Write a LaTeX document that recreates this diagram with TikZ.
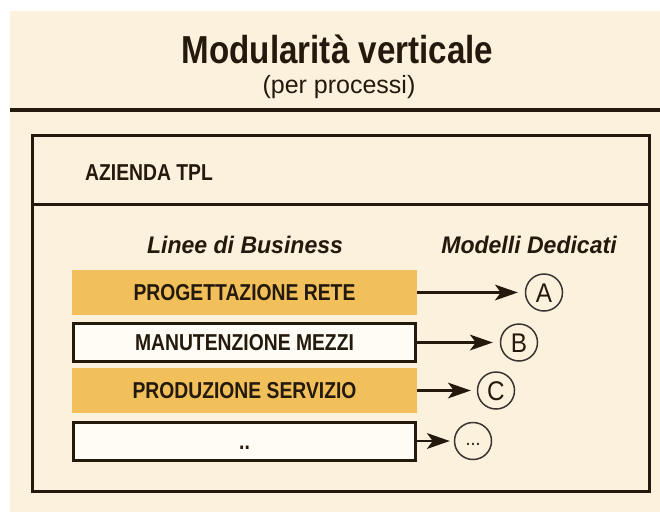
\documentclass[tikz,border=0pt]{standalone}
\usepackage{fontspec}
\setmainfont{Liberation Sans}
\newfontfamily\fTitle[FakeStretch=0.85]{Liberation Sans}
\newfontfamily\fRow[FakeStretch=0.84]{Liberation Sans}
\newfontfamily\fHead[FakeStretch=0.96]{Liberation Sans}
\newfontfamily\fCirc[FakeStretch=0.9]{Liberation Sans}
\usetikzlibrary{calc}
\definecolor{cream}{HTML}{FCF1DC}
\definecolor{orangefill}{HTML}{F2C05A}
\definecolor{boxwhite}{HTML}{FFFCF6}
\definecolor{linec}{HTML}{231A0D}
\definecolor{circc}{HTML}{3A3530}
\tikzset{
  rowfill/.style={minimum width=345pt, minimum height=45pt, inner sep=0pt, fill=orangefill,
    font=\fRow\bfseries\fontsize{23}{24}\selectfont, text height=16.5pt, text depth=0pt, text=linec},
  rowbox/.style={draw=linec, line width=3pt, fill=boxwhite, minimum width=342pt, minimum height=38pt, inner sep=0pt,
    font=\fRow\bfseries\fontsize{23}{24}\selectfont, text height=16.5pt, text depth=0pt, text=linec},
  circ/.style={circle, draw=circc, line width=1.5pt, minimum size=37pt, inner sep=0pt,
    font=\fCirc\fontsize{27}{28}\selectfont, text height=19.3pt, text depth=0pt, text=linec},
  head/.style={anchor=base, inner sep=0pt, font=\fHead\bfseries\itshape\fontsize{24}{25}\selectfont, text=linec},
  conn/.style={line width=2.5pt, draw=linec},
  tiphead/.style={fill=linec},
  frame/.style={draw=linec, line width=3pt}
}
\begin{document}
\begin{tikzpicture}[x=1pt,y=-1pt]
\useasboundingbox (0,0) rectangle (660,512);
\fill[white] (0,0) rectangle (660,512);
\fill[cream] (10,11) rectangle (660,512);
% title
\node[anchor=base, inner sep=0pt, font=\fTitle\bfseries\fontsize{39}{40}\selectfont, text=linec] (title) at (337.5,63) {Modularità verticale};
\node[anchor=base, inner sep=0pt, font=\fontsize{25}{26}\selectfont, text=linec] (sub) at (339,93) {(per processi)};
\draw[linec, line width=4pt] (10,110) -- (660,110);
% outer frame
\draw[frame] (32,135) rectangle (649,491);
\draw[frame] (32,204) -- (649,204);
\node[anchor=base west, inner sep=0pt, font=\fRow\bfseries\fontsize{23}{24}\selectfont, text=linec] (azienda) at (85,180) {AZIENDA TPL};
\node[head] (linee) at (245,253) {Linee di Business};
\node[head] (modelli) at (529,253) {Modelli Dedicati};
% rows
\node[rowfill] (r1) at (244.5,292.5) {PROGETTAZIONE RETE};
\node[rowbox]  (r2) at (244.5,342.5) {MANUTENZIONE MEZZI};
\node[rowfill] (r3) at (244.5,390.5) {PRODUZIONE SERVIZIO};
\node[rowbox]  (r4) at (244.5,441) {..};
% circles
\node[circ] (cA) at (544,292.5) {A};
\node[circ] (cB) at (519,342.5) {B};
\node[circ] (cC) at (496,390.5) {C};
\node[circ, font=\fCirc\fontsize{20}{21}\selectfont, text height=8pt] (cD) at (473,441) {...};
% arrow tips
\coordinate (tA) at ($(cA.west)+(-7,0)$);
\coordinate (tB) at ($(cB.west)+(-7,0)$);
\coordinate (tC) at ($(cC.west)+(-6,0)$);
\coordinate (tD) at ($(cD.west)+(-4,0)$);
% connectors
\draw[conn] (r1.east) -- ($(tA)+(-12,0)$);
\draw[conn] (r2.east) -- ($(tB)+(-12,0)$);
\draw[conn] (r3.east) -- ($(tC)+(-12,0)$);
\draw[conn] (r4.east) -- ($(tD)+(-12,0)$);
\fill[tiphead] (tA) -- ++(-23,-8) -- ++(6,8) -- ++(-6,8) -- cycle;
\fill[tiphead] (tB) -- ++(-23,-8) -- ++(6,8) -- ++(-6,8) -- cycle;
\fill[tiphead] (tC) -- ++(-23,-8) -- ++(6,8) -- ++(-6,8) -- cycle;
\fill[tiphead] (tD) -- ++(-23,-8) -- ++(6,8) -- ++(-6,8) -- cycle;
\end{tikzpicture}
\end{document}
